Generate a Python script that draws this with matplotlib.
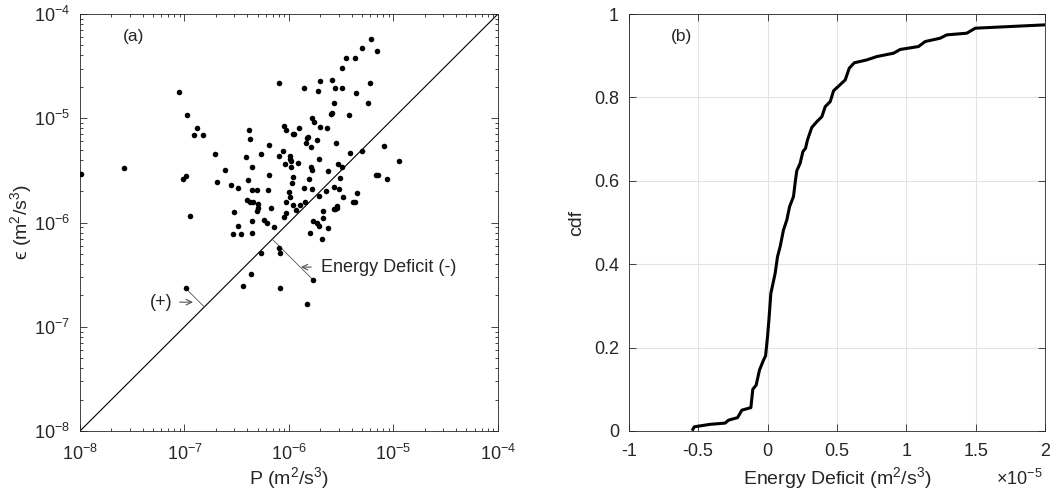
import numpy as np
import matplotlib
matplotlib.use("Agg")
import matplotlib.pyplot as plt
from matplotlib.ticker import LogLocator, FixedLocator, FuncFormatter, NullFormatter

plt.rcParams['font.family'] = ['Liberation Sans', 'DejaVu Sans']
plt.rcParams['mathtext.fontset'] = 'custom'
plt.rcParams['mathtext.rm'] = 'Liberation Sans'
plt.rcParams['mathtext.it'] = 'Liberation Sans:italic'
plt.rcParams['mathtext.sf'] = 'Liberation Sans'

# ---- data (panel a): log10 of production P and dissipation eps ----
logP = [-7.99, -7.58, -7.05, -6.98, -6.88, -6.91, -6.82, -7.01, -6.99, -6.95,
        -6.71, -6.69, -6.61, -6.55, -6.53, -6.49, -6.54, -6.49, -6.46, -6.41,
        -6.39, -6.38, -6.37, -6.35, -6.40, -6.35, -6.31, -6.37, -6.34, -6.30,
        -6.30, -6.31, -6.35, -6.35, -6.27, -6.19, -6.19, -6.20, -6.17, -6.24,
        -6.21, -6.14, -6.10, -6.10, -6.06, -6.05, -6.03, -6.04, -6.03, -6.03,
        -6.05, -6.00, -5.99, -5.99, -5.98, -5.98, -5.97, -5.99, -5.96, -5.95,
        -5.96, -5.96, -5.93, -5.91, -5.90, -5.89, -5.86, -5.86, -5.85, -5.84,
        -5.83, -5.82, -5.81, -5.79, -5.79, -5.78, -5.78, -5.78, -5.72, -5.80,
        -5.77, -5.76, -5.73, -5.71, -5.73, -5.71, -5.71, -5.70, -5.70, -5.65,
        -5.68, -5.67, -5.67, -5.63, -5.64, -5.63, -5.60, -5.59, -5.59, -5.57,
        -5.56, -5.57, -5.57, -5.56, -5.55, -5.54, -5.54, -5.53, -5.52, -5.51,
        -5.49, -5.49, -5.49, -5.48, -5.45, -5.43, -5.42, -5.39, -5.37, -5.37,
        -5.36, -5.35, -5.30, -5.30, -5.24, -5.22, -5.21, -5.16, -5.17, -5.15,
        -5.09, -5.06, -4.95, -6.27, -6.10, -6.09, -6.36, -6.44, -6.09, -5.77,
        -5.83, -6.99]
logEps = [-5.53, -5.48, -4.75, -4.97, -5.09, -5.16, -5.16, -5.58, -5.55, -5.94,
          -5.34, -5.61, -5.50, -5.64, -5.90, -5.67, -6.11, -6.03, -6.11, -5.37,
          -5.59, -5.11, -5.20, -5.47, -5.78, -5.69, -5.69, -5.80, -5.80, -5.82,
          -5.86, -5.89, -5.99, -6.10, -5.34, -5.54, -5.26, -5.69, -5.86, -5.98,
          -6.00, -6.04, -5.36, -4.66, -5.31, -5.07, -5.11, -5.44, -5.80, -5.91,
          -5.95, -5.71, -5.36, -5.39, -5.41, -5.47, -5.62, -5.76, -5.15, -5.15,
          -5.56, -5.83, -5.88, -5.43, -5.09, -5.83, -4.71, -5.67, -5.80, -5.24,
          -5.19, -5.18, -5.58, -5.28, -5.47, -5.00, -5.50, -5.68, -4.74, -6.10,
          -5.99, -5.04, -6.00, -6.03, -5.21, -5.39, -5.75, -5.08, -4.64, -5.70,
          -6.16, -5.89, -5.96, -6.05, -5.09, -5.51, -4.96, -4.95, -4.63, -4.85,
          -4.71, -5.66, -5.87, -5.87, -5.24, -5.84, -5.86, -5.44, -5.68, -5.57,
          -4.71, -4.52, -5.47, -5.76, -4.42, -4.97, -5.33, -5.80, -5.80, -4.42,
          -4.76, -5.72, -4.33, -5.31, -4.85, -4.66, -4.24, -4.35, -5.54, -5.54,
          -5.27, -5.58, -5.41, -6.29, -6.24, -6.29, -6.49, -6.61, -6.63, -6.55,
          -6.78, -6.63]

# ---- data (panel b): cdf of energy deficit (units of 1e-5 m^2/s^3) ----
deficit_e5 = [-0.538, -0.528, -0.413, -0.305, -0.281, -0.216, -0.185, -0.12,
              -0.106, -0.082, -0.058, -0.029, -0.014, 0.0, 0.01, 0.024, 0.055,
              0.072, 0.091, 0.115, 0.139, 0.159, 0.187, 0.2, 0.211, 0.235,
              0.255, 0.274, 0.288, 0.319, 0.356, 0.392, 0.416, 0.452, 0.476,
              0.512, 0.56, 0.589, 0.625, 0.716, 0.788, 0.908, 0.956, 1.088,
              1.136, 1.244, 1.292, 1.436, 1.497, 2.0, 2.3]
cdf = [0.004, 0.01, 0.016, 0.019, 0.026, 0.032, 0.05, 0.056, 0.10, 0.11,
       0.146, 0.17, 0.18, 0.226, 0.266, 0.33, 0.378, 0.418, 0.442, 0.482,
       0.506, 0.538, 0.562, 0.598, 0.624, 0.642, 0.67, 0.678, 0.698, 0.728,
       0.742, 0.754, 0.778, 0.79, 0.816, 0.827, 0.842, 0.87, 0.883, 0.89,
       0.898, 0.906, 0.915, 0.922, 0.934, 0.942, 0.95, 0.954, 0.966, 0.974,
       0.978]

P = 10.0 ** np.array(logP)
eps = 10.0 ** np.array(logEps)

TXT = '#262626'
AX = '#262626'

fig = plt.figure(figsize=(10.5, 4.97), dpi=100)
ax1 = fig.add_axes([0.0762, 0.1328, 0.398, 0.839])
ax2 = fig.add_axes([0.5988, 0.1328, 0.3965, 0.839])

# ---------- panel (a) ----------
ax1.plot([1e-8, 1e-4], [1e-8, 1e-4], color='k', lw=0.8, zorder=2)
ax1.plot(P, eps, 'o', color='k', ms=4.0, mew=0, zorder=3)
ax1.set_xscale('log')
ax1.set_yscale('log')
ax1.set_xlim(1e-8, 1e-4)
ax1.set_ylim(1e-8, 1e-4)

# perpendicular markers from two points to the 1:1 line
i_neg = len(logP) - 3   # point below line (deficit)
i_pos = len(logP) - 1   # point above line
for i in (i_neg, i_pos):
    gm = np.sqrt(P[i] * eps[i])
    ax1.plot([P[i], gm], [eps[i], gm], color='#555555', lw=0.6, zorder=2)

ax1.annotate('', xy=(0.522, 0.393), xytext=(0.56, 0.393), xycoords='axes fraction',
             arrowprops=dict(arrowstyle='->', color='#555555', lw=0.8))
ax1.text(0.577, 0.393, 'Energy Deficit (-)', transform=ax1.transAxes,
         fontsize=13, color=TXT, va='center', ha='left')
ax1.annotate('', xy=(0.277, 0.309), xytext=(0.232, 0.309), xycoords='axes fraction',
             arrowprops=dict(arrowstyle='->', color='#555555', lw=0.8))
ax1.text(0.194, 0.309, '(+)', transform=ax1.transAxes, fontsize=13, color=TXT,
         va='center', ha='center')
ax1.text(0.127, 0.945, '(a)', transform=ax1.transAxes, fontsize=12.5, color=TXT,
         va='center', ha='center')

ax1.xaxis.set_major_locator(LogLocator(base=10, numticks=10))
ax1.yaxis.set_major_locator(LogLocator(base=10, numticks=10))
ax1.xaxis.set_minor_locator(LogLocator(base=10, subs=np.arange(2, 10), numticks=100))
ax1.yaxis.set_minor_locator(LogLocator(base=10, subs=np.arange(2, 10), numticks=100))
ax1.xaxis.set_minor_formatter(NullFormatter())
ax1.yaxis.set_minor_formatter(NullFormatter())
ax1.set_xlabel(r'P (m$^2$/s$^3$)', fontsize=14, color=TXT, labelpad=1)
ax1.set_ylabel('\u03f5 (m$^2$/s$^3$)', fontsize=14, color=TXT, labelpad=0)

# ---------- panel (b) ----------
ax2.plot(deficit_e5, cdf, color='k', lw=2.2, zorder=3)
ax2.set_xlim(-1, 2)
ax2.set_ylim(0, 1)
ax2.xaxis.set_major_locator(FixedLocator([-1, -0.5, 0, 0.5, 1, 1.5, 2]))
ax2.yaxis.set_major_locator(FixedLocator([0, 0.2, 0.4, 0.6, 0.8, 1]))
fmt = FuncFormatter(lambda v, p: '%g' % v)
ax2.xaxis.set_major_formatter(fmt)
ax2.yaxis.set_major_formatter(fmt)
ax2.grid(True, color='#e3e3e3', lw=0.8, zorder=0)
ax2.set_axisbelow(True)
ax2.text(0.126, 0.945, '(b)', transform=ax2.transAxes, fontsize=12.5, color=TXT,
         va='center', ha='center')
ax2.set_xlabel(r'Energy Deficit (m$^2$/s$^3$)', fontsize=14, color=TXT, labelpad=3)
ax2.set_ylabel('cdf', fontsize=14, color=TXT, labelpad=6)
fig.text(0.971, 0.036, r'$\times$10$^{-5}$', fontsize=13, color=TXT,
         ha='center', va='center')

for ax in (ax1, ax2):
    for s in ax.spines.values():
        s.set_color(AX)
        s.set_linewidth(0.6)
    ax.tick_params(which='both', direction='in', top=True, right=True,
                   colors=AX, labelcolor=TXT, labelsize=13, width=0.6)
    ax.tick_params(which='major', length=5)
    ax.tick_params(which='minor', length=2.5)
    ax.tick_params(axis='x', which='major', pad=9)
    ax.tick_params(axis='y', which='major', pad=7)

fig.savefig('out.png', dpi=100)
